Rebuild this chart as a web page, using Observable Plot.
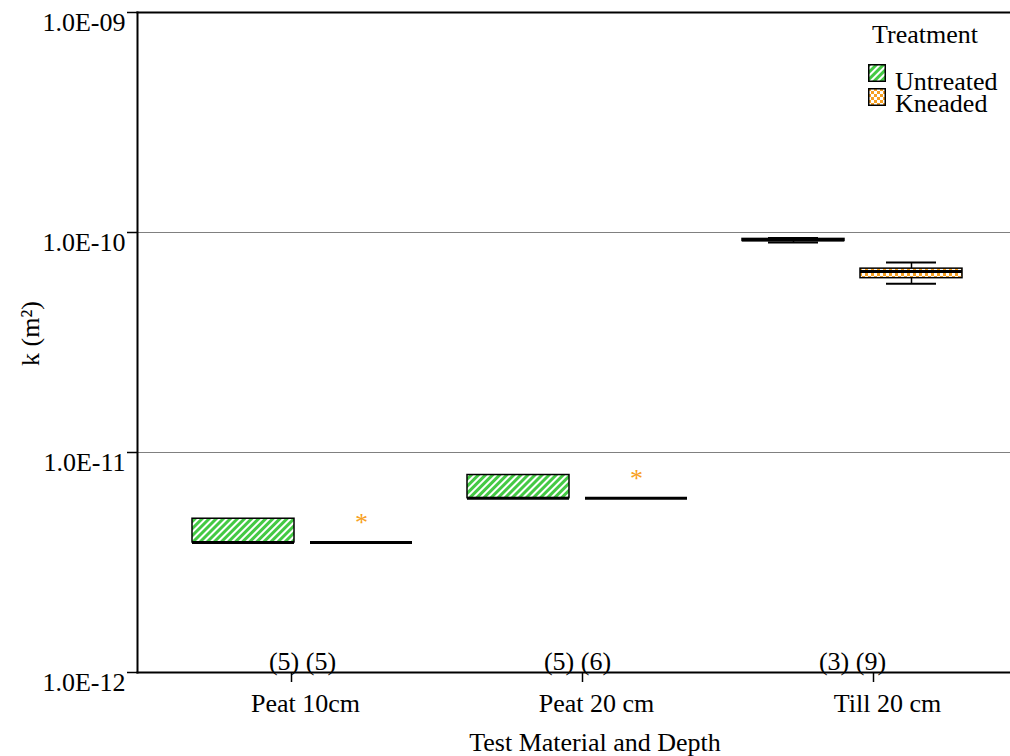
<!DOCTYPE html>
<html>
<head>
<meta charset="utf-8">
<script src="https://cdn.jsdelivr.net/npm/d3@7"></script>
<script src="https://cdn.jsdelivr.net/npm/@observablehq/plot@0.6"></script>
<style>
  html, body { margin: 0; padding: 0; background: #fff; }
  #chart { position: relative; width: 1010px; height: 756px; font-family: "Liberation Serif", "Times New Roman", serif; }
  #chart > svg { position: absolute; left: 0; top: 0; }
  .legend { position: absolute; font-size: 26px; line-height: 20px; color: #000; white-space: nowrap; }
</style>
</head>
<body>
<div id="chart"></div>
<script>
// Categories and treatments
const categories = ["Peat 10cm", "Peat 20 cm", "Till 20 cm"];
const treatments = ["Untreated", "Kneaded"];

// Box-plot summaries, one entry per category × treatment
const boxCategory  = ["Peat 10cm", "Peat 10cm", "Peat 20 cm", "Peat 20 cm", "Till 20 cm", "Till 20 cm"];
const boxTreatment = ["Untreated", "Kneaded", "Untreated", "Kneaded", "Untreated", "Kneaded"];
const whiskerLow   = [3.9e-12, 3.9e-12, 6.2e-12, 6.2e-12, 9.0e-11, 5.85e-11];
const quartile1    = [3.9e-12, 3.9e-12, 6.2e-12, 6.2e-12, 9.15e-11, 6.2e-11];
const medians      = [3.9e-12, 3.9e-12, 6.2e-12, 6.2e-12, 9.25e-11, 6.65e-11];
const quartile3    = [5.0e-12, 3.9e-12, 7.9e-12, 6.2e-12, 9.35e-11, 6.85e-11];
const whiskerHigh  = [5.0e-12, 3.9e-12, 7.9e-12, 6.2e-12, 9.45e-11, 7.3e-11];

// Outliers
const outlierCategory  = ["Peat 10cm", "Peat 20 cm"];
const outlierTreatment = ["Kneaded", "Kneaded"];
const outlierValue     = [5.0e-12, 7.9e-12];

// Sample sizes per category
const countUntreated = [5, 5, 3];
const countKneaded   = [5, 6, 9];

// Y axis ticks and their labels
const yTicks = [1e-12, 1e-11, 1e-10, 1e-9];
const yTickLabels = ["1.0E-12", "1.0E-11", "1.0E-10", "1.0E-09"];
const yGrid = [1e-11, 1e-10];

const boxes = boxCategory.map((category, i) => ({
  category, treatment: boxTreatment[i],
  low: whiskerLow[i], q1: quartile1[i], median: medians[i], q3: quartile3[i], high: whiskerHigh[i]
}));
const outliers = outlierCategory.map((category, i) => ({category, treatment: outlierTreatment[i], value: outlierValue[i]}));
const counts = categories.map((category, i) => ({category, label: `(${countUntreated[i]}) (${countKneaded[i]})`}));

const GREEN = "#44c944";
const ORANGE = "#f7a021";
const font = "Liberation Serif, Times New Roman, serif";
const FS = 26;

// shared layout and scales for both layers
const layout = {width: 1010, height: 756, marginLeft: 137, marginRight: 0, marginTop: 12, marginBottom: 84};
const categoryScale = {domain: categories, paddingInner: 0.194, paddingOuter: 0.1815, align: 0.53, label: null};
const yScale = {type: "log", domain: [1e-12, 1e-9], label: null};

// Axes, frame and reference lines
const axesLayer = Plot.plot({
  ...layout,
  style: {fontFamily: font, fontSize: FS + "px", background: "white", color: "black", overflow: "visible"},
  x: {...categoryScale},
  y: yScale,
  marks: [
    Plot.ruleY(yGrid, {stroke: "#808080", strokeWidth: 1}),
    Plot.frame({anchor: "top", stroke: "black", strokeWidth: 2}),
    Plot.frame({anchor: "left", stroke: "black", strokeWidth: 2}),
    Plot.frame({anchor: "bottom", stroke: "black", strokeWidth: 2}),
    Plot.axisY({
      ticks: yTicks, tickSize: 10, tickPadding: 2, strokeWidth: 1.5,
      tickFormat: v => yTickLabels[yTicks.indexOf(v)], lineAnchor: "top", fontSize: FS, label: null
    }),
    Plot.axisX({anchor: "bottom", tickSize: 10, strokeWidth: 1.5, tickFormat: () => "", label: null}),
    Plot.axisX({anchor: "bottom", tickSize: 0, tickPadding: 21, dx: 14, fontSize: FS, label: null}),
    Plot.text(["Test Material and Depth"], {frameAnchor: "bottom", lineAnchor: "top", dy: 60, dx: 21, fontSize: FS}),
    Plot.text(["k (m²)"], {frameAnchor: "left", textAnchor: "middle", rotate: -90, dx: -107, dy: -9, fontSize: FS})
  ]
});

// Box plots, faceted by category with treatments side by side
const boxLayer = Plot.plot({
  ...layout,
  style: {fontFamily: font, fontSize: FS + "px", background: "none", color: "black", overflow: "visible"},
  fx: {...categoryScale, axis: null},
  x: {domain: treatments, paddingInner: 0.134, paddingOuter: 0, axis: null},
  y: {...yScale, axis: null},
  marks: [
    // whiskers
    Plot.ruleX(boxes, {fx: "category", x: "treatment", y1: "low", y2: "q1", stroke: "black", strokeWidth: 1.5}),
    Plot.ruleX(boxes, {fx: "category", x: "treatment", y1: "q3", y2: "high", stroke: "black", strokeWidth: 1.5}),
    Plot.tickY(boxes, {filter: d => d.low < d.q1, fx: "category", x: "treatment", y: "low", insetLeft: 26, insetRight: 26, stroke: "black", strokeWidth: 2}),
    Plot.tickY(boxes, {filter: d => d.high > d.q3, fx: "category", x: "treatment", y: "high", insetLeft: 26, insetRight: 26, stroke: "black", strokeWidth: 2}),
    // boxes
    Plot.barY(boxes, {filter: d => d.treatment === "Untreated", fx: "category", x: "treatment", y1: "q1", y2: "q3", fill: "url(#stripes)", stroke: "black", strokeWidth: 1.5}),
    Plot.barY(boxes, {filter: d => d.treatment === "Kneaded", fx: "category", x: "treatment", y1: "q1", y2: "q3", fill: "url(#checks)", stroke: "black", strokeWidth: 1.5}),
    // medians
    Plot.tickY(boxes, {fx: "category", x: "treatment", y: "median", stroke: "black", strokeWidth: 3}),
    // outliers
    Plot.text(outliers, {fx: "category", x: "treatment", y: "value", text: () => "*", fill: ORANGE, fontSize: FS, dy: 4}),
    // sample sizes
    Plot.text(counts, {fx: "category", frameAnchor: "bottom", text: "label", lineAnchor: "bottom", dy: -3, fontSize: FS})
  ]
});

// fill patterns for the boxes
const defs = d3.select(boxLayer).insert("defs", ":first-child");
const stripes = defs.append("pattern").attr("id", "stripes").attr("patternUnits", "userSpaceOnUse")
  .attr("width", 5).attr("height", 5).attr("patternTransform", "rotate(45)");
stripes.append("rect").attr("width", 5).attr("height", 5).attr("fill", "#fff");
stripes.append("rect").attr("width", 3).attr("height", 5).attr("fill", GREEN);
const checks = defs.append("pattern").attr("id", "checks").attr("patternUnits", "userSpaceOnUse")
  .attr("width", 6).attr("height", 6);
checks.append("rect").attr("width", 6).attr("height", 6).attr("fill", "#fff");
checks.append("rect").attr("width", 3).attr("height", 3).attr("fill", ORANGE);
checks.append("rect").attr("x", 3).attr("y", 3).attr("width", 3).attr("height", 3).attr("fill", ORANGE);

const chart = document.getElementById("chart");
chart.appendChild(axesLayer);
chart.appendChild(boxLayer);

// legend
function addText(text, left, top) {
  const div = document.createElement("div");
  div.className = "legend";
  div.style.left = left + "px";
  div.style.top = top + "px";
  div.textContent = text;
  chart.appendChild(div);
}
function addSwatch(fill, left, top) {
  const s = d3.create("svg").attr("width", 18).attr("height", 18)
    .style("position", "absolute").style("left", left + "px").style("top", top + "px");
  s.append("rect").attr("x", 0.75).attr("y", 0.75).attr("width", 16.5).attr("height", 16.5)
    .attr("fill", fill).attr("stroke", "black").attr("stroke-width", 1.5);
  chart.appendChild(s.node());
}
addText("Treatment", 872, 25);
addSwatch("url(#stripes)", 868, 64);
addText(treatments[0], 895, 72);
addSwatch("url(#checks)", 868, 88);
addText(treatments[1], 895, 94);
</script>
</body>
</html>
